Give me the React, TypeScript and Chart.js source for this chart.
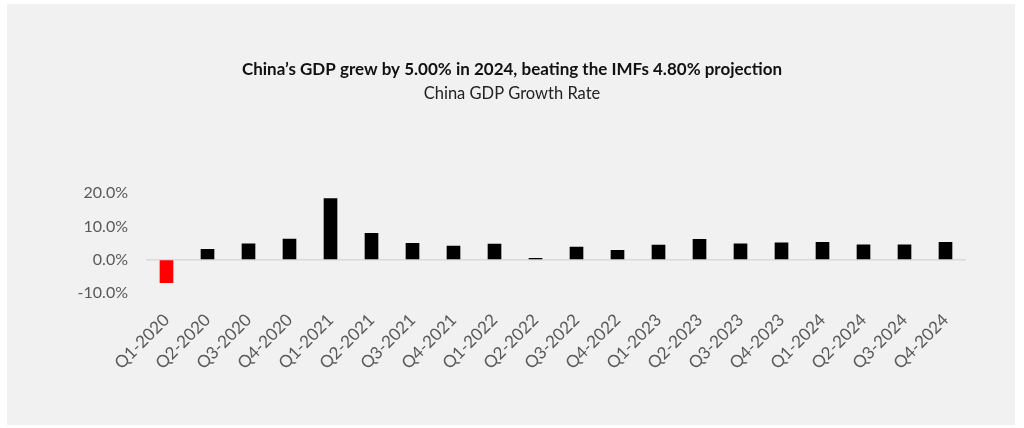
import { useEffect, useRef } from "react";
import { Chart, registerables } from "chart.js";

Chart.register(...registerables);

const quarters = [
  "Q1-2020", "Q2-2020", "Q3-2020", "Q4-2020",
  "Q1-2021", "Q2-2021", "Q3-2021", "Q4-2021",
  "Q1-2022", "Q2-2022", "Q3-2022", "Q4-2022",
  "Q1-2023", "Q2-2023", "Q3-2023", "Q4-2023",
  "Q1-2024", "Q2-2024", "Q3-2024", "Q4-2024",
];

// year-on-year growth, %
const growth = [
  -6.9, 3.1, 4.8, 6.2,
  18.4, 7.9, 4.9, 4.1,
  4.7, 0.4, 3.8, 2.8,
  4.4, 6.1, 4.8, 5.1,
  5.2, 4.5, 4.5, 5.2,
];

const yTicks = [-10, 0, 10, 20];

const titleText = "China\u2019s GDP grew by 5.00% in 2024, beating the IMFs 4.80% projection";
const subtitleText = "China GDP Growth Rate";

// Paint the light grey panel behind the chart
const panelBackground = {
  id: "panelBackground",
  beforeDraw(chart) {
    const { ctx, width, height } = chart;
    ctx.save();
    ctx.fillStyle = "#ffffff";
    ctx.fillRect(0, 0, width, height);
    ctx.fillStyle = "#f1f1f1";
    ctx.fillRect(7, 4, 1008, 421);
    ctx.restore();
  },
};

const App = () => {
  const canvasRef = useRef(null);
  const chartRef = useRef(null);

  useEffect(() => {
    document.body.style.margin = "0";
    if (!canvasRef.current) return;
    if (chartRef.current) chartRef.current.destroy();

    chartRef.current = new Chart(canvasRef.current.getContext("2d"), {
      type: "bar",
      data: {
        labels: quarters,
        datasets: [
          {
            data: growth,
            backgroundColor: growth.map((v) => (v < 0 ? "#ff0000" : "#000000")),
            borderWidth: 0,
            barThickness: 13,
          },
        ],
      },
      options: {
        animation: false,
        responsive: false,
        maintainAspectRatio: false,
        layout: {
          padding: { left: 58, right: 58, top: 0, bottom: 35 },
        },
        plugins: {
          legend: { display: false },
          tooltip: { enabled: false },
          title: {
            display: true,
            text: titleText,
            color: "#111111",
            font: { family: "Lato", size: 17, weight: "bold" },
            padding: { top: 59, bottom: 4 },
          },
          subtitle: {
            display: true,
            text: subtitleText,
            color: "#222222",
            font: { family: "Lato", size: 16.5, weight: "normal" },
            padding: { top: 0, bottom: 90 },
          },
        },
        scales: {
          x: {
            grid: { display: false },
            border: { display: false },
            ticks: {
              color: "#595959",
              font: { family: "Lato", size: 17 },
              minRotation: 45,
              maxRotation: 45,
              padding: 9,
              autoSkip: false,
            },
            afterFit(scale) {
              scale.height = 100;
            },
          },
          y: {
            min: -10,
            max: 20,
            afterBuildTicks(scale) {
              scale.ticks = yTicks.map((value) => ({ value }));
            },
            grid: {
              drawTicks: false,
              color: (ctx) => (ctx.tick && ctx.tick.value === 0 ? "#d9d9d9" : "rgba(0,0,0,0)"),
              lineWidth: 1.5,
            },
            border: { display: false },
            ticks: {
              color: "#595959",
              font: { family: "Lato", size: 16 },
              padding: 18,
              callback: (v) => `${Number(v).toFixed(1)}%`,
            },
            afterFit(scale) {
              scale.width = 88;
            },
          },
        },
      },
      plugins: [panelBackground],
    });

    return () => {
      if (chartRef.current) {
        chartRef.current.destroy();
        chartRef.current = null;
      }
    };
  }, []);

  return (
    <div style={{ width: 1024, height: 428 }}>
      <canvas ref={canvasRef} width={1024} height={428} style={{ display: "block" }} />
    </div>
  );
};

export default App;
